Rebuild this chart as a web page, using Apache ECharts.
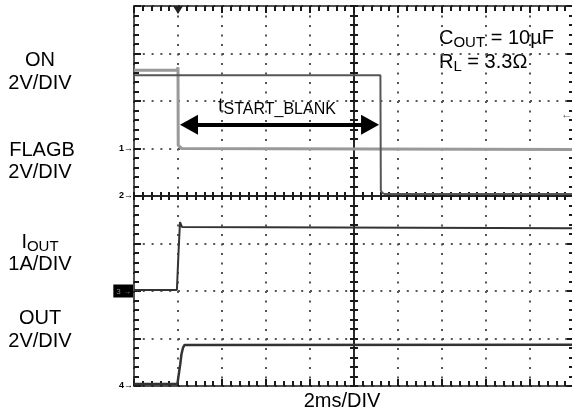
<!DOCTYPE html>
<html>
<head>
<meta charset="utf-8">
<script src="https://cdn.jsdelivr.net/npm/echarts@6/dist/echarts.min.js"></script>
<style>
  html, body { margin: 0; padding: 0; background: #fff; }
  .c { width: 572px; height: 414px; float: left; }
</style>
</head>
<body>
<div id="c0" class="c"></div>
<script>
// ---- time axis (ms), 2 ms/div, 10 divisions ----
const timeMin = 0;
const timeMax = 20;
const timeStep = 2;
const divMin = 0;
const divMax = 8;

// ---- channel settings: ground level (division) and scale (units/div) ----
const chNames  = ['ON', 'FLAGB', 'IOUT', 'OUT'];
const chGround = [5, 4, 2, 0];
const chScale  = [2, 2, 1, 2];
const chMarker = ['1', '2', '3', '4'];

// ---- traces (time ms, value in V or A) ----
const onT    = [0, 1.97, 2.0, 2.01, 2.08, 2.17, 20];
const onV    = [3.3, 3.3, 3.42, 0.13, 0.05, 0.0, -0.04];

const flagT  = [0, 11.2, 11.22, 11.3, 11.4, 20];
const flagV  = [5.08, 5.08, 0.22, 0.12, 0.08, 0.08];

const ioutT  = [0, 1.95, 2.0, 2.02, 2.05, 2.09, 2.18, 20];
const ioutA  = [0.02, 0.02, 0.0, 0.78, 0.82, 1.45, 1.35, 1.32];

const outT   = [0, 1.97, 2.05, 2.1, 2.16, 2.23, 2.3, 20];
const outV   = [0.08, 0.08, 0.1, 0.9, 1.35, 1.62, 1.73, 1.74];

// ---- annotation values (arrow symbol centres) ----
const blankStart = 2.5;    // ms
const blankEnd   = 10.73;  // ms
const blankLevel = 5.5;    // division
const triggerTime = 2.0;   // ms

function toDiv(ts, vs, ch) {
  return ts.map((t, i) => [t, chGround[ch] + vs[i] / chScale[ch]]);
}

const font = "'Liberation Sans', Arial, sans-serif";
const axisColor = '#1a1a1a';
const gridColor = '#555';
const hiddenLabel = { show: true, formatter: function () { return ''; }, color: 'rgba(0,0,0,0)' };
const markerMap = {};
chGround.forEach((g, i) => { markerMap[g] = i; });

function tickSet(inside, major, minor) {
  return {
    axisTick: { show: true, inside: inside, length: major, lineStyle: { color: axisColor, width: 2 } },
    minorTick: { show: true, splitNumber: 5, length: minor, lineStyle: { color: axisColor, width: 2 } }
  };
}
function borderX(extra) {
  return Object.assign({
    type: 'value', min: timeMin, max: timeMax, interval: timeStep,
    axisLine: { show: true, onZero: false, lineStyle: { color: axisColor, width: 1.5 } },
    axisLabel: hiddenLabel, splitLine: { show: false }
  }, tickSet(true, 7, 5), extra);
}
function borderY(extra) {
  return Object.assign({
    type: 'value', min: divMin, max: divMax, interval: 1,
    axisLine: { show: true, onZero: false, lineStyle: { color: axisColor, width: 1.5 } },
    axisLabel: hiddenLabel, splitLine: { show: false }
  }, tickSet(true, 7, 5), extra);
}
const richLabel = {
  show: true, margin: 1, interval: 0,
  formatter: function (v) {
    if (!(v in markerMap)) return '';
    const i = markerMap[v];
    if (i === 2) return '{box|' + chMarker[i] + ' →}';
    return '{n|' + chMarker[i] + '}{a|→}';
  },
  rich: {
    n: { fontFamily: font, fontSize: 9, fontWeight: 'bold', color: '#000' },
    a: { fontFamily: font, fontSize: 9, color: '#000' },
    box: { fontFamily: font, fontSize: 8, color: '#888', backgroundColor: '#000', padding: [3, 2, 2, 3] }
  }
};
function txt(x, y, text, align, rich) {
  const s = { text: text, font: '20px ' + font, fill: '#000', align: align || 'center', verticalAlign: 'middle' };
  if (rich) s.rich = rich;
  return { type: 'text', x: x, y: y, style: s };
}
const subRich = { s: { fontFamily: font, fontSize: 15, padding: [10, 0, 0, 0] } };

const o = {
  animation: false,
  grid: { left: 134, top: 6, width: 440, height: 380, containLabel: false, outerBoundsMode: 'none' },
  xAxis: [
    borderX({ position: 'bottom', splitLine: { show: true, lineStyle: { color: gridColor, width: 2, type: [2, 7.5] } } }),
    borderX({ position: 'top' }),
    borderX(Object.assign({ position: 'bottom', offset: -190 }, tickSet(true, 4, 4))),
    borderX(Object.assign({ position: 'bottom', offset: -190 }, tickSet(false, 4, 4)))
  ],
  yAxis: [
    borderY({ position: 'left', splitLine: { show: true, lineStyle: { color: gridColor, width: 2, type: [2, 6.8] } }, axisLabel: richLabel }),
    borderY({ position: 'right' }),
    borderY(Object.assign({ position: 'left', offset: -220 }, tickSet(true, 4, 4))),
    borderY(Object.assign({ position: 'left', offset: -220 }, tickSet(false, 4, 4)))
  ],
  series: [
    { type: 'line', name: chNames[0], xAxisIndex: 0, yAxisIndex: 0, z: 3, showSymbol: false,
      data: toDiv(onT, onV, 0), lineStyle: { color: '#999', width: 3 },
      markPoint: { symbol: 'triangle', symbolRotate: 180, symbolSize: [10, 8], symbolOffset: [0, 4],
        itemStyle: { color: '#222' }, label: { show: false }, data: [{ coord: [triggerTime, divMax] }] } },
    { type: 'line', name: chNames[1], xAxisIndex: 0, yAxisIndex: 0, z: 4, showSymbol: false,
      data: toDiv(flagT, flagV, 1), lineStyle: { color: '#555', width: 2 },
      markLine: { silent: true, symbol: ['triangle', 'triangle'], symbolSize: [20, 18], label: { show: false },
        lineStyle: { color: '#000', width: 4, type: 'solid' },
        data: [[{ coord: [blankStart, blankLevel] }, { coord: [blankEnd, blankLevel] }]] } },
    { type: 'line', name: chNames[2], xAxisIndex: 0, yAxisIndex: 0, z: 4, showSymbol: false,
      data: toDiv(ioutT, ioutA, 2), lineStyle: { color: '#333', width: 2 } },
    { type: 'line', name: chNames[3], xAxisIndex: 0, yAxisIndex: 0, z: 4, showSymbol: false,
      data: toDiv(outT, outV, 3), lineStyle: { color: '#333', width: 2.5 } }
  ],
  graphic: [
    txt(40, 60, 'ON'), txt(40, 83, '2V/DIV'),
    txt(42, 150, 'FLAGB'), txt(40, 172, '2V/DIV'),
    txt(40, 242, 'I{s|OUT}', 'center', subRich), txt(40, 264, '1A/DIV'),
    txt(40, 318, 'OUT'), txt(40, 341, '2V/DIV'),
    txt(342, 401, '2ms/DIV'),
    txt(439, 38, 'C{s|OUT} = 10µF', 'left', subRich),
    txt(439, 62, 'R{s|L} = 3.3Ω', 'left', subRich),
    txt(218, 106, 't{s|START_BLANK}', 'left', { s: { fontFamily: font, fontSize: 16, padding: [8, 0, 0, 0] } }),
    { type: 'text', x: 561, y: 115, style: { text: '←', font: '12px ' + font, fill: '#666', align: 'left', verticalAlign: 'middle' } }
  ]
};
const ch = echarts.init(document.getElementById('c0'), null, { renderer: 'canvas' });
try { ch.setOption(o); } catch (e) { document.body.insertAdjacentText('beforeend', 'ERR ' + e.message); }
</script>
</body>
</html>
